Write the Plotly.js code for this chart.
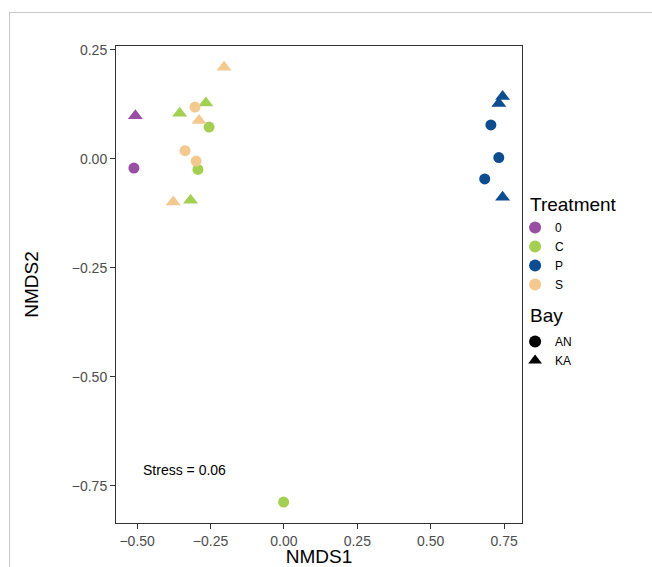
<!DOCTYPE html>
<html>
<head>
<meta charset="utf-8">
<script src="https://cdn.plot.ly/plotly-3.0.1.min.js"></script>
<style>
html,body{margin:0;padding:0;background:#fff;}
#plot{position:absolute;left:0;top:0;width:652px;height:567px;}
#frame{position:absolute;left:9px;top:12px;width:800px;height:800px;border:1px solid #c9c9c9;pointer-events:none;}
</style>
</head>
<body>
<div id="plot"></div>
<div id="frame"></div>
<script>
// NMDS scores
var treatment = ["0","0","C","C","C","C","C","C","P","P","P","P","P","P","S","S","S","S","S","S"];
var bay       = ["AN","KA","AN","AN","AN","KA","KA","KA","AN","AN","AN","KA","KA","KA","AN","AN","AN","KA","KA","KA"];
var nmds1     = [-0.511,-0.506,-0.255,-0.293,-0.001,-0.355,-0.266,-0.318,0.705,0.732,0.684,0.745,0.732,0.745,-0.303,-0.337,-0.299,-0.204,-0.289,-0.377];
var nmds2     = [-0.021,0.099,0.073,-0.024,-0.787,0.105,0.128,-0.095,0.078,0.003,-0.046,0.143,0.127,-0.088,0.119,0.019,-0.005,0.210,0.088,-0.099];

var treatLevels = ["0","C","P","S"];
var treatColors = ["#984EA3","#A3D053","#0D4D8F","#F3C98F"];
var bayLevels = ["AN","KA"];
var baySymbols = ["circle","triangle-up"];
var baySizes = [11,13];
var stressLabel = "Stress = 0.06";
var legendTitles = ["Treatment","Bay"];

var traces = [];
treatLevels.forEach(function(t, ti){
  bayLevels.forEach(function(b, bi){
    var xs=[], ys=[];
    for (var i=0;i<treatment.length;i++){
      if (treatment[i]===t && bay[i]===b){xs.push(nmds1[i]); ys.push(nmds2[i]);}
    }
    traces.push({type:"scatter",mode:"markers",x:xs,y:ys,showlegend:false,
      marker:{color:treatColors[ti],symbol:baySymbols[bi],size:baySizes[bi],line:{width:0}},
      hoverinfo:"x+y"});
  });
});
// legend entries
treatLevels.forEach(function(t, ti){
  traces.push({type:"scatter",mode:"markers",x:[null],y:[null],name:t,legend:"legend",
    marker:{color:treatColors[ti],symbol:"circle",size:11}});
});
bayLevels.forEach(function(b, bi){
  traces.push({type:"scatter",mode:"markers",x:[null],y:[null],name:b,legend:"legend2",
    marker:{color:"#000",symbol:baySymbols[bi],size:baySizes[bi]}});
});

var font = "Liberation Sans, Arial, Helvetica, sans-serif";
var axisCommon = {showgrid:false,zeroline:false,showline:true,mirror:true,linecolor:"#333",linewidth:1,
  ticks:"outside",ticklen:5,tickcolor:"#333",tickwidth:1,
  tickfont:{family:font,size:14,color:"#4d4d4d"}};

var layout = {
  width:652,height:567,
  margin:{l:116,r:130,t:46,b:44},
  paper_bgcolor:"rgba(0,0,0,0)",plot_bgcolor:"#fff",
  font:{family:font},
  xaxis:Object.assign({},axisCommon,{range:[-0.572,0.811],tickvals:[-0.5,-0.25,0,0.25,0.5,0.75],
    ticktext:["\u22120.50","\u22120.25","0.00","0.25","0.50","0.75"],
    title:{text:"NMDS1",font:{family:font,size:19,color:"#000"},standoff:13}}),
  yaxis:Object.assign({},axisCommon,{range:[-0.835,0.259],tickvals:[-0.75,-0.5,-0.25,0,0.25],
    ticktext:["\u22120.75","\u22120.50","\u22120.25","0.00","0.25"],
    title:{text:"NMDS2",font:{family:font,size:19,color:"#000"},standoff:28}}),
  legend:{x:0.983,xanchor:"left",y:0.6499,yanchor:"top",
    font:{family:font,size:12,color:"#000"},bgcolor:"rgba(0,0,0,0)",itemsizing:"constant"},
  legend2:{x:0.983,xanchor:"left",y:0.4109,yanchor:"top",
    font:{family:font,size:12,color:"#000"},bgcolor:"rgba(0,0,0,0)",itemsizing:"constant"},
  annotations:[
    {x:-0.488,y:-0.713,xref:"x",yref:"y",text:stressLabel,showarrow:false,xanchor:"left",yanchor:"middle",
      font:{family:font,size:14,color:"#000"}},
    {x:1.0197,y:0.6667,xref:"paper",yref:"paper",text:legendTitles[0],showarrow:false,xanchor:"left",yanchor:"middle",
      xshift:-2,font:{family:font,size:19,color:"#000"}},
    {x:1.0197,y:0.436,xref:"paper",yref:"paper",text:legendTitles[1],showarrow:false,xanchor:"left",yanchor:"middle",
      xshift:-2,font:{family:font,size:19,color:"#000"}}
  ]
};

Plotly.newPlot("plot", traces, layout, {displayModeBar:false});
</script>
</body>
</html>
